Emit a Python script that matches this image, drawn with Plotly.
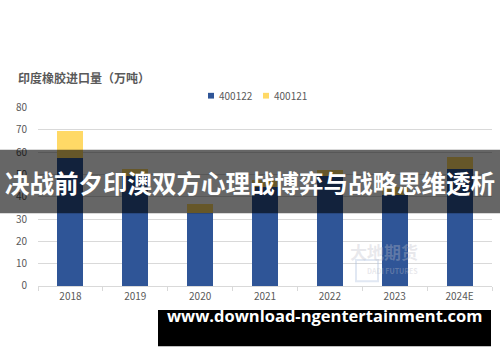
import plotly.graph_objects as go

W, H = 500, 362
years = ["2018", "2019", "2020", "2021", "2022", "2023", "2024E"]
s400122 = [57.3, 49.5, 32.6, 44.3, 49.5, 40.7, 52.7]
s400121 = [12.1, 3.2, 4.0, 3.3, 2.7, 3.5, 5.1]
y_ticks = [0, 10, 20, 30, 40, 50, 60, 70, 80]
series_names = ["400122", "400121"]
series_colors = ["#2F5597", "#FFD966"]

title_text = "印度橡胶进口量（万吨）"
banner_text = "决战前夕印澳双方心理战博弈与战略思维透析"
url_text = "www.download-ngentertainment.com"

def px(x):
    return x / W

def py(y):
    return 1 - y / H

CJK = "Noto Sans CJK SC"
GRAY = "#595959"

fig = go.Figure()
for name, vals, col in zip(series_names, [s400122, s400121], series_colors):
    fig.add_trace(go.Bar(x=years, y=vals, name=name, marker_color=col,
                         marker_line_width=0, showlegend=False))

fig.update_layout(
    width=W, height=H,
    margin=dict(l=0, r=0, t=0, b=0),
    paper_bgcolor="white", plot_bgcolor="white",
    barmode="stack", bargap=0.6,
    font=dict(family=CJK, size=10, color=GRAY),
    xaxis=dict(domain=[px(38), px(492)], showgrid=False, showline=True,
               linecolor="#d9d9d9", linewidth=1, ticks="outside", tickson="boundaries",
               ticklen=4, tickcolor="#d9d9d9", tickfont=dict(size=10, color=GRAY),
               ticklabelstandoff=1, fixedrange=True),
    yaxis=dict(domain=[py(290), py(104)], range=[0, 80], tickvals=y_ticks,
               showgrid=True, gridcolor="#d9d9d9", gridwidth=1, zeroline=False,
               showline=False, ticks="", ticklabelstandoff=10,
               tickfont=dict(size=10, color=GRAY), fixedrange=True),
)

# custom legend (small squares)
leg_x = [208, 263]
for lx, name, col in zip(leg_x, series_names, series_colors):
    fig.add_shape(type="rect", xref="paper", yref="paper", x0=px(lx), x1=px(lx + 6),
                  y0=py(94.5), y1=py(88.5), fillcolor=col, line_width=0)
    fig.add_annotation(x=px(lx + 9), y=py(91.5), xref="paper", yref="paper",
                       xanchor="left", yanchor="middle", showarrow=False, text=name,
                       font=dict(size=10, color=GRAY, family=CJK))

# chart title
fig.add_annotation(x=px(16), y=py(72), xref="paper", yref="paper", xanchor="left",
                   yanchor="middle", showarrow=False, text="<b>" + title_text + "</b>",
                   font=dict(size=12, color=GRAY, family=CJK))

# watermark
fig.add_shape(type="rect", xref="paper", yref="paper", x0=px(356), x1=px(378),
              y0=py(263), y1=py(285), line=dict(color="rgba(170,190,220,0.35)", width=2),
              fillcolor="rgba(0,0,0,0)")
fig.add_annotation(x=px(420), y=py(269), xref="paper", yref="paper", showarrow=False,
                   text="<b>大地期货</b>", font=dict(size=17, color="rgba(190,190,200,0.35)", family=CJK))
fig.add_annotation(x=px(420), y=py(282), xref="paper", yref="paper", showarrow=False,
                   text="<b>DADI FUTURES</b>", font=dict(size=7, color="rgba(190,190,200,0.35)", family=CJK))

# dark banner overlay
fig.add_shape(type="rect", xref="paper", yref="paper", x0=0, x1=1, y0=py(214), y1=py(148),
              fillcolor="rgba(0,0,0,0.6)", line_width=0, layer="above")
fig.add_annotation(x=0.5, y=py(182), xref="paper", yref="paper", showarrow=False,
                   text="<b>" + banner_text + "</b>",
                   font=dict(size=24.5, color="white", family=CJK))

# bottom url banner
fig.add_shape(type="rect", xref="paper", yref="paper", x0=px(158), x1=px(491),
              y0=py(353), y1=py(315), fillcolor="black", line_width=0, layer="above")
fig.add_annotation(x=px(324), y=py(334), xref="paper", yref="paper", showarrow=False,
                   text="<b>" + url_text + "</b>", borderpad=0,
                   font=dict(size=16.5, color="white", family="Open Sans"))

fig.write_html("out.html", config={"displayModeBar": False, "staticPlot": True},
               post_script="document.body.style.margin='0';document.body.style.overflow='hidden';")
